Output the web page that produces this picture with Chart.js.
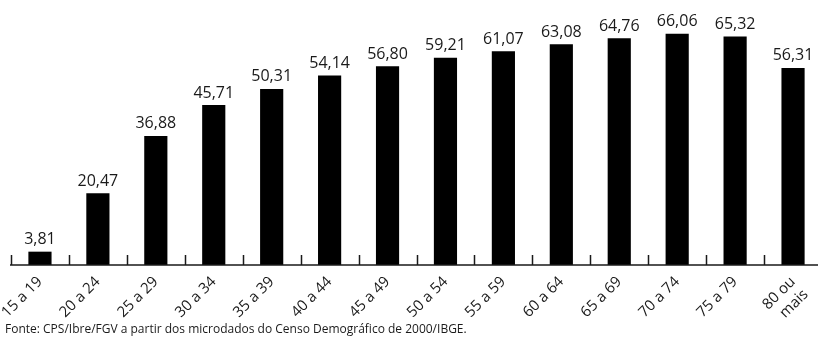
<!DOCTYPE html>
<html>
<head>
<meta charset="utf-8">
<script src="https://cdn.jsdelivr.net/npm/chart.js@4"></script>
<style>
    html, body { margin: 0; padding: 0; background: #fff; overflow: hidden; }
    #wrap { position: relative; width: 830px; height: 340px; }
    #fonte {
        position: absolute; left: 5px; top: 320px;
        font-family: "Open Sans", sans-serif; font-size: 12px; color: #1a1a1a;
        white-space: nowrap;
    }
</style>
</head>
<body>
<div id="wrap">
    <canvas id="ageChart" width="830" height="340"></canvas>
    <div id="fonte">Fonte: CPS/Ibre/FGV a partir dos microdados do Censo Demográfico de 2000/IBGE.</div>
</div>
<script>
const ageGroups = ["15 a 19", "20 a 24", "25 a 29", "30 a 34", "35 a 39", "40 a 44", "45 a 49",
    "50 a 54", "55 a 59", "60 a 64", "65 a 69", "70 a 74", "75 a 79", ["80 ou", "mais"]];
const values = [3.81, 20.47, 36.88, 45.71, 50.31, 54.14, 56.80, 59.21, 61.07, 63.08, 64.76, 66.06, 65.32, 56.31];

// value labels above bars + small upward ticks between categories
const barExtras = {
    id: "barExtras",
    afterDatasetsDraw(chart) {
        const ctx = chart.ctx;
        const meta = chart.getDatasetMeta(0);
        const x = chart.scales.x;
        const area = chart.chartArea;

        ctx.save();
        ctx.fillStyle = "#1a1a1a";
        ctx.font = "16px 'Open Sans', sans-serif";
        ctx.textAlign = "center";
        ctx.textBaseline = "bottom";
        meta.data.forEach((bar, i) => {
            ctx.fillText(values[i].toFixed(2).replace(".", ","), bar.x, bar.y - 4);
        });

        const half = (x.getPixelForValue(1) - x.getPixelForValue(0)) / 2;
        ctx.strokeStyle = "#1a1a1a";
        ctx.lineWidth = 1.5;
        ctx.beginPath();
        ctx.moveTo(area.left - 1, area.bottom);
        ctx.lineTo(area.right, area.bottom);
        for (let i = 0; i < ageGroups.length; i++) {
            const px = Math.round(x.getPixelForValue(i) - half) + 0.5;
            ctx.moveTo(px, area.bottom);
            ctx.lineTo(px, area.bottom - 10);
        }
        ctx.stroke();
        ctx.restore();
    }
};

new Chart(document.getElementById("ageChart").getContext("2d"), {
    type: "bar",
    data: {
        labels: ageGroups,
        datasets: [{
            data: values,
            backgroundColor: "#000",
            barPercentage: 0.8,
            categoryPercentage: 0.5,
        }],
    },
    options: {
        responsive: false,
        animation: false,
        layout: { padding: { left: 11, right: 8, top: 20, bottom: 20 } },
        plugins: {
            legend: { display: false },
            tooltip: { enabled: false },
        },
        scales: {
            x: {
                grid: { display: false, drawTicks: false },
                border: { display: false },
                ticks: {
                    color: "#1a1a1a",
                    font: { family: "'Open Sans', sans-serif", size: 15, lineHeight: 1.2 },
                    minRotation: 45,
                    maxRotation: 45,
                    padding: 8,
                    autoSkip: false,
                },
                afterFit(scale) {
                    scale.height = 55;
                    scale.paddingLeft = 0;
                    scale.paddingRight = 0;
                },
            },
            y: {
                display: false,
                min: 0,
                max: 70,
            },
        },
    },
    plugins: [barExtras],
});
</script>
</body>
</html>
